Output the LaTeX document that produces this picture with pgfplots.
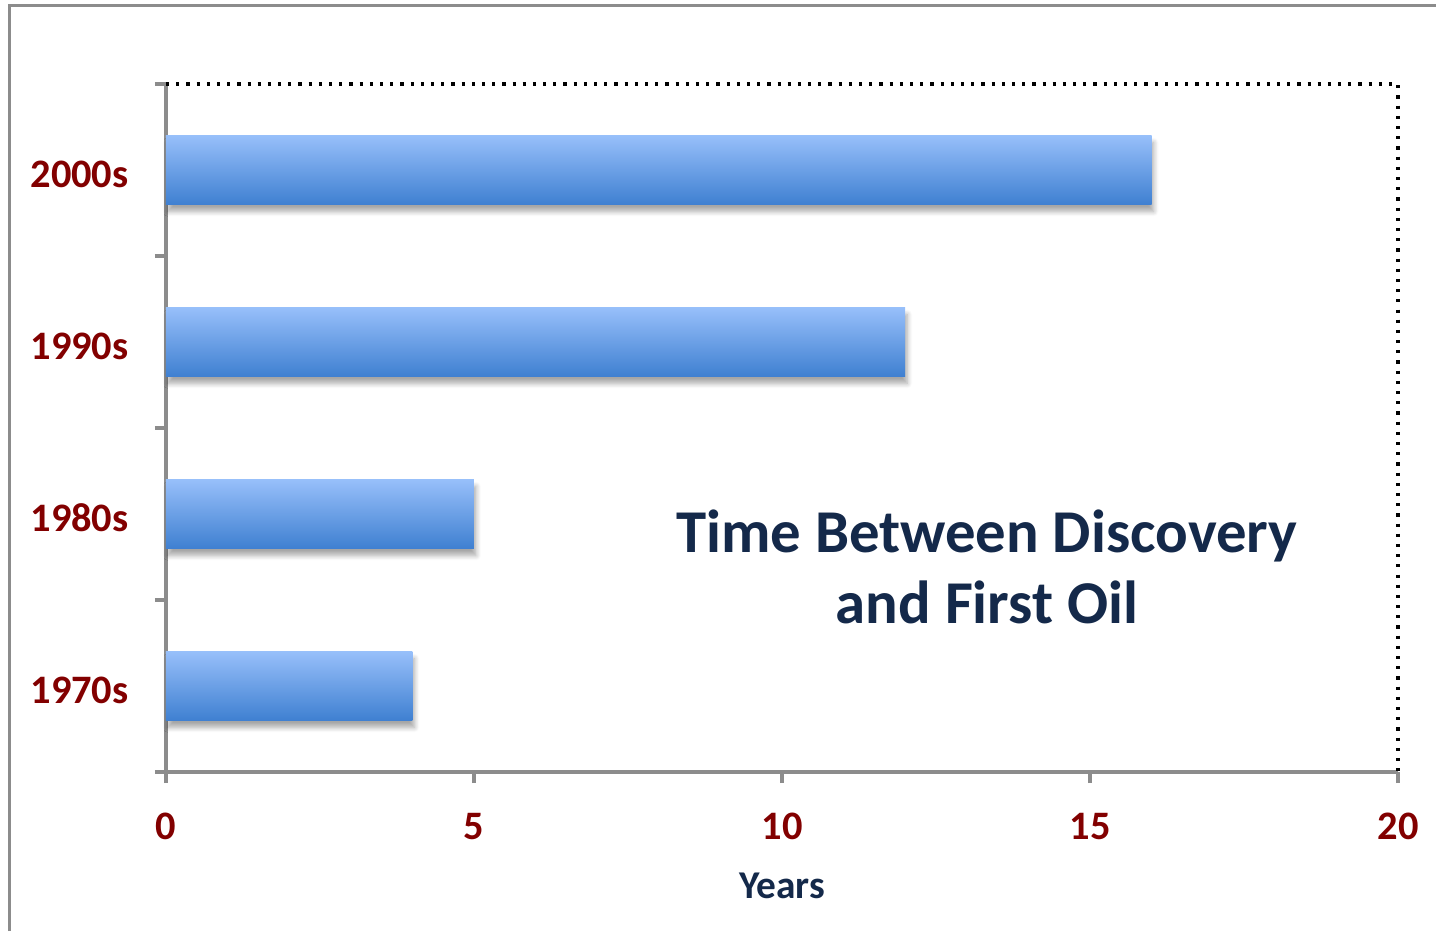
\documentclass[border=0pt]{standalone}
\usepackage{fontspec}
\setmainfont{Carlito}
\usepackage{pgfplots}
\pgfplotsset{compat=1.18}
\usetikzlibrary{shadows.blur}

\definecolor{tickred}{HTML}{820000}
\definecolor{navy}{HTML}{14294A}
\definecolor{barTop}{HTML}{97BFFA}
\definecolor{barBot}{HTML}{3F80D1}
\definecolor{frame}{HTML}{8C8C8C}

\pgfplotsset{
  gradbar/.style={draw=none, top color=barTop, bottom color=barBot, bar shift=0pt,
    blur shadow={shadow xshift=0.2mm, shadow yshift=-0.7mm, shadow opacity=35,
      shadow blur steps=6, shadow blur radius=0.5mm, shadow blur extra rounding=0pt}},
}

\begin{document}
\begin{tikzpicture}
% 1 reference pixel = 0.1mm, y measured from the bottom
\useasboundingbox (0,0) rectangle (143.6mm,93.1mm);
\draw[frame, line width=0.3mm] (1mm,0) -- (1mm,92.6mm) -- (143.6mm,92.6mm);

\begin{axis}[
  at={(16.6mm,15.9mm)}, anchor=south west,
  scale only axis,
  width=123.2mm, height=68.8mm,
  xbar, bar width=0.4,
  xmin=0, xmax=20,
  ymin=-0.5, ymax=3.5,
  xtick={0,5,10,15,20},
  ytick={-0.5,0.5,1.5,2.5,3.5},
  yticklabels={},
  extra y ticks={0,1,2,3},
  extra y tick labels={1970s,1980s,1990s,2000s},
  extra y tick style={major tick length=0pt},
  axis lines*=left,
  axis line style={-, draw=frame, line width=0.9pt},
  tick style={draw=frame, line width=0.9pt},
  tick align=outside,
  major tick length=1.1mm,
  ticklabel style={font=\fontsize{11.5}{13}\selectfont\bfseries, text=tickred},
  /pgf/number format/assume math mode=true,
  yticklabel style={xshift=-2.5mm, yshift=-0.4mm},
  xticklabel style={yshift=-1.8mm},
  xlabel={Years},
  xlabel style={font=\fontsize{11.2}{13}\selectfont\bfseries, text=navy, yshift=-0.9mm},
  clip=false,
]
\addplot[gradbar] coordinates {(4,0)};
\addplot[gradbar] coordinates {(5,1)};
\addplot[gradbar] coordinates {(12,2)};
\addplot[gradbar] coordinates {(16,3)};
\draw[black, dotted, line width=0.9pt] (rel axis cs:0,1) -- (rel axis cs:1,1) -- (rel axis cs:1,0);
\end{axis}

\node[align=center, text=navy, font=\fontsize{17.3}{20.3}\selectfont\bfseries]
  at (98.7mm,36.4mm) {Time Between Discovery\\and First Oil};
\end{tikzpicture}
\end{document}
